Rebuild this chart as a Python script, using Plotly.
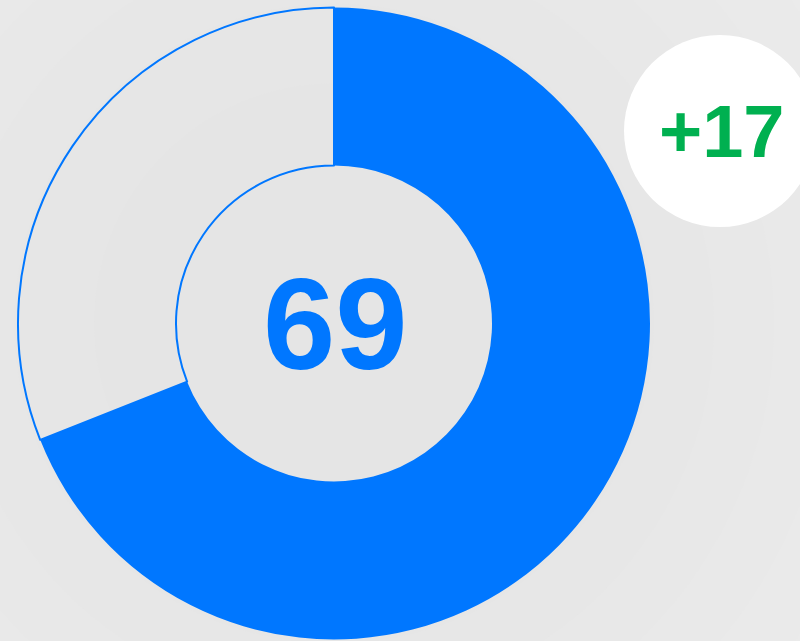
import plotly.graph_objects as go

# Score donut: filled share vs. remainder, plus change since last period
segments = ["Score", "Remaining"]
score = 69
total = 100
change = 17
values = [score, total - score]

W, H = 800, 641
BLUE = "#0077FF"
GREEN = "#00B050"

# donut geometry in pixels
cx, cy, R = 334, 323.5, 316
bx, by, BR = 720, 131, 96


def px_x(v):
    return v / W


def px_y(v):
    return (H - v) / H


fig = go.Figure()

fig.add_trace(go.Pie(
    labels=segments,
    values=values,
    sort=False,
    direction="clockwise",
    rotation=0,
    hole=0.5,
    textinfo="none",
    hoverinfo="skip",
    showlegend=False,
    marker=dict(
        colors=[BLUE, "rgba(0,0,0,0)"],
        line=dict(color=BLUE, width=[0, 2]),
    ),
    domain=dict(x=[px_x(cx - R), px_x(cx + R)],
                y=[px_y(cy + R), px_y(cy - R)]),
))

# soft radial shading behind the donut
shapes = []
bands = [(620, 235), (560, 234), (500, 233), (440, 232), (380, 231), (320, 230), (240, 229)]
for rad, c in bands:
    shapes.append(dict(
        type="circle", xref="paper", yref="paper", layer="below",
        x0=px_x(cx - rad), x1=px_x(cx + rad),
        y0=px_y(cy + rad), y1=px_y(cy - rad),
        fillcolor=f"rgb({c},{c},{c})", line=dict(width=0),
    ))

# badge holding the change value
shapes.append(dict(
    type="circle", xref="paper", yref="paper", layer="above",
    x0=px_x(bx - BR), x1=px_x(bx + BR),
    y0=px_y(by + BR), y1=px_y(by - BR),
    fillcolor="white", line=dict(width=0),
))

annotations = [
    dict(text=f"<b>{score}</b>", x=px_x(cx + 1), y=px_y(cy), xref="paper", yref="paper",
         showarrow=False, xanchor="center", yanchor="middle",
         font=dict(family="Liberation Sans, Arial", size=130, color=BLUE)),
    dict(text=f"<b>{change:+d}</b>", x=px_x(bx + 2), y=px_y(by), xref="paper", yref="paper",
         showarrow=False, xanchor="center", yanchor="middle",
         font=dict(family="Liberation Sans, Arial", size=74, color=GREEN)),
]

fig.update_layout(
    width=W, height=H,
    margin=dict(l=0, r=0, t=0, b=0),
    paper_bgcolor="rgb(236,236,236)",
    plot_bgcolor="rgba(0,0,0,0)",
    shapes=shapes,
    annotations=annotations,
)

fig.write_html("out.html", config={"displayModeBar": False})
